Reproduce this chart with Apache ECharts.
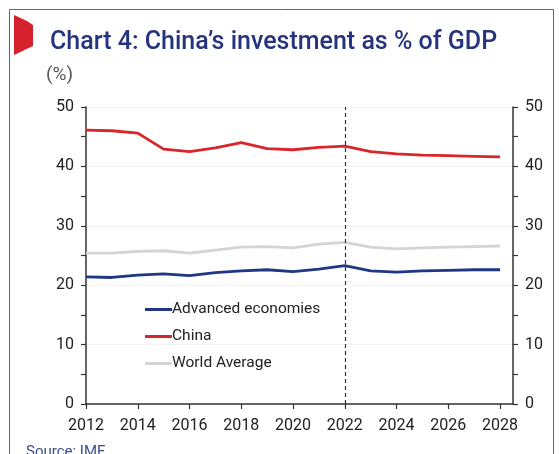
<!DOCTYPE html>
<html>
<head>
<meta charset="utf-8">
<script src="https://cdn.jsdelivr.net/npm/echarts@6/dist/echarts.min.js"></script>
<style>
html,body{margin:0;padding:0;background:#fff;}
#chart{width:559px;height:454px;}
</style>
</head>
<body>
<div id="chart"></div>
<script>
const years = [2012,2013,2014,2015,2016,2017,2018,2019,2020,2021,2022,2023,2024,2025,2026,2027,2028];
const advanced = [21.4,21.3,21.7,21.9,21.6,22.1,22.4,22.6,22.3,22.7,23.3,22.4,22.2,22.4,22.5,22.6,22.6];
const china = [46.1,46.0,45.6,42.9,42.5,43.1,44.0,43.0,42.8,43.2,43.4,42.5,42.1,41.9,41.8,41.7,41.6];
const world = [25.4,25.4,25.7,25.8,25.4,25.9,26.4,26.5,26.3,26.9,27.2,26.4,26.1,26.3,26.4,26.5,26.6];
const markYear = 2022;
const titleText = 'Chart 4: China\u2019s investment as % of GDP';
const unitText = '(%)';
const sourceText = 'Source: IMF';

const pair = arr => years.map((y, i) => [y, arr[i]]);
const font = 'Roboto, "Liberation Sans", sans-serif';

const chart = echarts.init(document.getElementById('chart'), null, {renderer: 'canvas'});
const yAxisCommon = {
  type: 'value', min: 0, max: 50, interval: 10,
  axisLine: {show: true, lineStyle: {color: '#333', width: 1.5}},
  axisTick: {show: true, length: 5, lineStyle: {color: '#333', width: 1.2}},
  minorTick: {show: true, splitNumber: 2, length: 5, lineStyle: {color: '#333', width: 1.2}},
  axisLabel: {color: '#222', fontSize: 16, fontFamily: font, margin: 12},
};
chart.setOption({
  animation: false,
  backgroundColor: '#fff',
  textStyle: {fontFamily: font},
  grid: {left: 86, right: 46, top: 107, bottom: 50},
  xAxis: {
    type: 'value', min: 2012, max: 2028.5, interval: 2,
    axisLine: {show: true, onZero: false, lineStyle: {color: '#333', width: 1.5}},
    axisTick: {show: true, length: 5, lineStyle: {color: '#333', width: 1.2}},
    splitLine: {show: false},
    axisLabel: {color: '#222', fontSize: 16, fontFamily: font, margin: 14, showMaxLabel: false,
      formatter: v => Number.isInteger(v) ? String(v) : ''}
  },
  yAxis: [
    Object.assign({}, yAxisCommon, {position: 'left',
      splitLine: {show: true, lineStyle: {color: '#f2f2f2', width: 1}}}),
    Object.assign({}, yAxisCommon, {position: 'right', splitLine: {show: false}})
  ],
  legend: {
    orient: 'vertical', left: 145, top: 301, padding: 0,
    itemWidth: 27, itemHeight: 3, itemGap: 10, icon: 'rect',
    textStyle: {color: '#222', fontSize: 15.5, fontFamily: font, lineHeight: 17, padding: [0, 0, 0, -5]},
    data: ['Advanced economies', 'China', 'World Average']
  },
  series: [
    {name: 'World Average', type: 'line', data: pair(world), symbol: 'none',
      lineStyle: {color: '#d4d4d4', width: 2.8}, itemStyle: {color: '#d4d4d4'}, z: 2},
    {name: 'Advanced economies', type: 'line', data: pair(advanced), symbol: 'none',
      lineStyle: {color: '#1f3784', width: 2.8}, itemStyle: {color: '#1f3784'}, z: 3},
    {name: 'China', type: 'line', data: pair(china), symbol: 'none',
      lineStyle: {color: '#d9252c', width: 2.8}, itemStyle: {color: '#d9252c'}, z: 4,
      markLine: {silent: true, symbol: 'none', label: {show: false}, animation: false,
        lineStyle: {color: '#333', type: [4, 3], width: 1.2},
        data: [{xAxis: markYear}]}}
  ],
  graphic: [
    {type: 'rect', shape: {x: 9.5, y: 9.5, width: 544, height: 460}, silent: true,
      style: {fill: 'none', stroke: '#666', lineWidth: 1}},
    {type: 'polygon', shape: {points: [[14, 15], [27, 21], [33, 25], [33, 46], [14, 55]]},
      style: {fill: '#d6222c'}},
    {type: 'text', left: 50, top: 30,
      style: {text: titleText, fill: '#26347f', font: '500 25px ' + font}},
    {type: 'text', left: 46, top: 66,
      style: {text: unitText, fill: '#555', font: '19px ' + font}},
    {type: 'text', left: 26, top: 445,
      style: {text: sourceText, fill: '#3b4f8c', font: '15px ' + font}}
  ]
});
</script>
</body>
</html>
